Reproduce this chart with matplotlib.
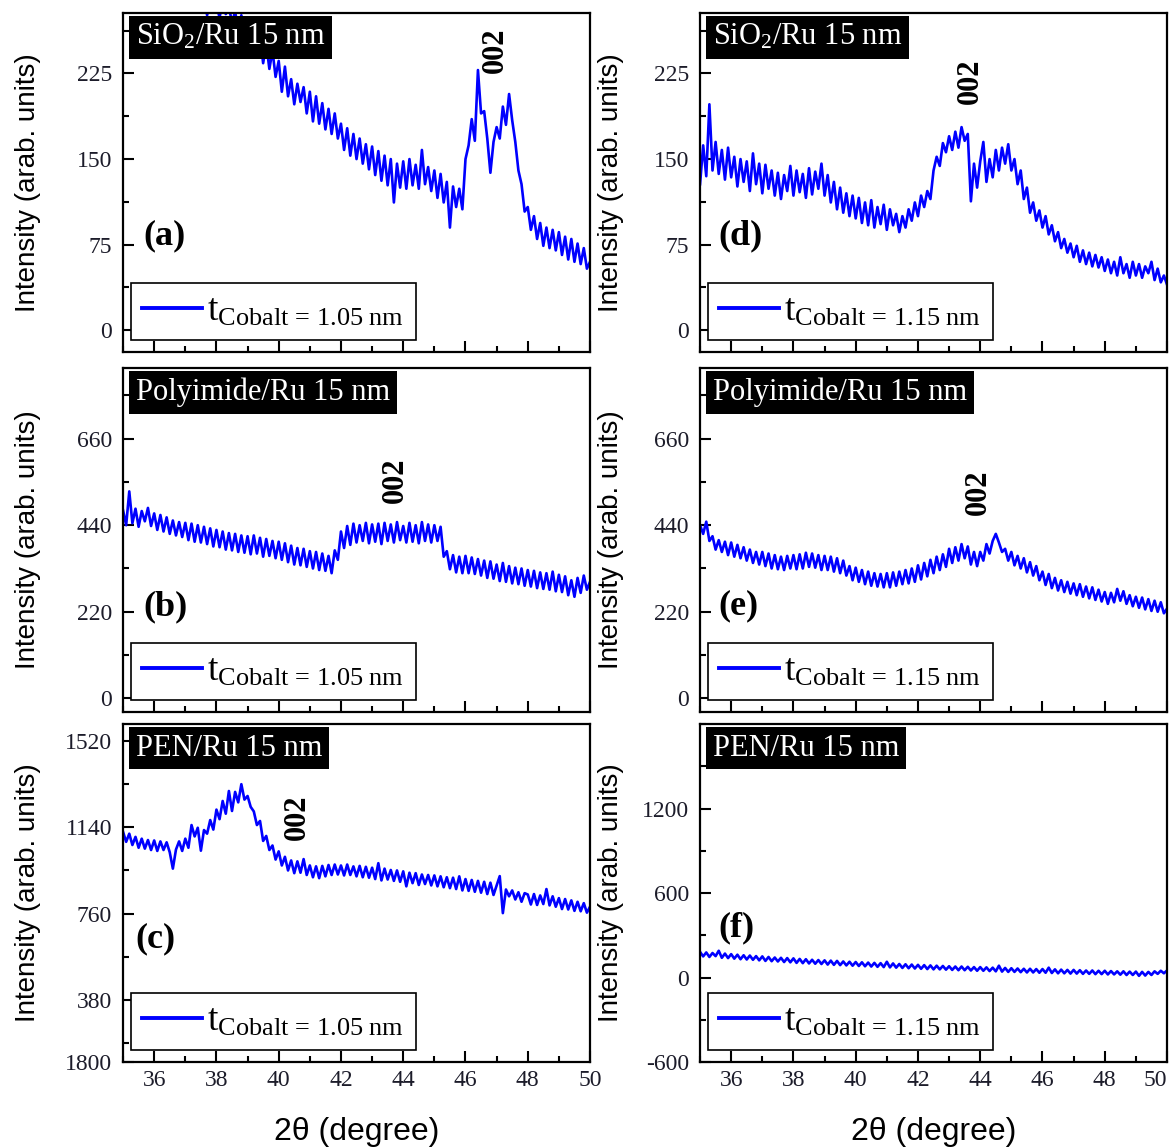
#!/usr/bin/env python3
# -*- coding: utf-8 -*-
"""
XRD 2θ 扫描: 不同衬底 (SiO2 / Polyimide / PEN) 上 Ru 15 nm / Co 薄膜
左列 t_Co = 1.05 nm, 右列 t_Co = 1.15 nm
"""

import numpy as np
import matplotlib
matplotlib.use('Agg')
import matplotlib.pyplot as plt
from matplotlib.ticker import MultipleLocator, FixedLocator, FixedFormatter

# 扫描范围 (度)
scan_start, scan_stop, scan_step = 35.0, 50.0, 0.1
two_theta = np.round(np.arange(scan_start, scan_stop + scan_step / 2, scan_step), 2)

# ---- 强度数据 (从原图读取, 每 0.1 度一个点) ----
# (a) SiO2/Ru, 1.05 nm
int_sio2_105 = [
    312, 291, 318, 288, 305, 284, 309, 295, 316, 290,
    298, 310, 292, 303, 286, 306, 294, 311, 289, 300,
    297, 284, 301, 288, 296, 279, 292, 276, 289, 281,
    285, 274, 288, 277, 283, 270, 279, 264, 276, 262,
    271, 250, 265, 246, 258, 234, 251, 229, 245, 222,
    236, 209, 231, 205, 220, 198, 216, 200, 213, 190,
    209, 183, 205, 181, 199, 176, 194, 172, 190, 168,
    181, 158, 177, 153, 172, 150, 168, 146, 163, 141,
    161, 136, 157, 131, 153, 127, 150, 112, 146, 125,
    148, 124, 150, 127, 145, 124, 158, 128, 143, 122,
    140, 116, 137, 112, 130, 90, 126, 108, 124, 106,
    150, 162, 185, 166, 228, 190, 192, 168, 138, 165,
    178, 168, 196, 180, 207, 184, 165, 140, 128, 104,
    108, 88, 100, 80, 94, 74, 90, 72, 88, 70,
    86, 66, 82, 62, 80, 60, 76, 58, 72, 54,
    60,
]
# (d) SiO2/Ru, 1.15 nm
int_sio2_115 = [
    128, 162, 135, 198, 140, 165, 137, 158, 132, 160,
    134, 152, 126, 150, 130, 148, 122, 155, 128, 146,
    120, 145, 124, 140, 118, 138, 115, 136, 122, 144,
    118, 140, 121, 137, 116, 142, 119, 139, 124, 146,
    118, 136, 112, 130, 106, 125, 103, 120, 100, 118,
    98, 116, 94, 112, 92, 114, 90, 108, 93, 110,
    88, 106, 92, 102, 86, 100, 90, 106, 96, 112,
    100, 118, 108, 122, 115, 140, 152, 144, 164, 156,
    170, 158, 174, 160, 178, 166, 172, 113, 146, 125,
    148, 165, 130, 150, 134, 158, 140, 160, 146, 163,
    140, 150, 128, 140, 115, 125, 103, 112, 96, 105,
    90, 100, 84, 92, 78, 86, 72, 80, 68, 76,
    64, 74, 60, 70, 58, 68, 56, 66, 55, 64,
    52, 62, 50, 60, 48, 64, 50, 58, 46, 60,
    48, 58, 46, 56, 50, 60, 44, 54, 42, 48,
    40,
]
# (b) Polyimide/Ru, 1.05 nm
int_pi_105 = [
    478, 440, 526, 445, 482, 436, 476, 450, 484, 438,
    470, 428, 466, 424, 460, 418, 452, 414, 448, 410,
    446, 402, 444, 398, 440, 396, 436, 392, 432, 386,
    428, 384, 424, 378, 420, 376, 418, 372, 414, 370,
    412, 366, 414, 368, 408, 360, 405, 362, 400, 356,
    398, 352, 394, 346, 388, 340, 382, 338, 380, 334,
    374, 330, 372, 326, 368, 324, 362, 318, 376, 352,
    424, 382, 438, 390, 444, 396, 440, 400, 446, 394,
    442, 398, 444, 392, 446, 400, 442, 396, 448, 402,
    438, 396, 446, 398, 440, 394, 448, 400, 442, 396,
    440, 400, 436, 360, 374, 328, 364, 320, 360, 318,
    362, 318, 358, 316, 354, 312, 350, 306, 348, 304,
    340, 298, 344, 296, 336, 292, 332, 290, 330, 286,
    326, 284, 324, 280, 320, 278, 318, 276, 322, 272,
    314, 270, 310, 262, 300, 258, 306, 268, 312, 276,
    296,
]
# (e) Polyimide/Ru, 1.15 nm
int_pi_115 = [
    440, 418, 449, 400, 412, 378, 402, 372, 398, 364,
    396, 360, 390, 356, 384, 350, 378, 344, 372, 340,
    372, 336, 368, 330, 364, 328, 360, 326, 362, 330,
    364, 328, 366, 330, 370, 334, 368, 332, 364, 326,
    362, 326, 360, 322, 356, 318, 350, 312, 336, 300,
    332, 296, 326, 290, 322, 286, 318, 284, 316, 282,
    318, 282, 320, 286, 322, 290, 326, 292, 330, 296,
    338, 302, 344, 310, 352, 318, 360, 326, 366, 334,
    380, 344, 384, 350, 392, 356, 386, 340, 372, 336,
    372, 350, 392, 368, 400, 418, 396, 372, 380, 350,
    372, 338, 362, 330, 356, 320, 346, 312, 336, 300,
    322, 288, 316, 280, 306, 274, 300, 270, 296, 266,
    292, 262, 290, 258, 284, 254, 282, 250, 276, 246,
    270, 240, 268, 244, 278, 248, 272, 240, 262, 234,
    258, 230, 256, 226, 252, 222, 248, 220, 244, 216,
    228,
]
# (c) PEN/Ru, 1.05 nm
int_pen_105 = [
    1120, 1076, 1112, 1062, 1098, 1050, 1090, 1046, 1084, 1040,
    1082, 1036, 1078, 1040, 1074, 1030, 958, 1042, 1078, 1036,
    1090, 1050, 1150, 1100, 1138, 1037, 1128, 1112, 1172, 1130,
    1218, 1176, 1256, 1200, 1300, 1212, 1296, 1250, 1330, 1262,
    1278, 1230, 1210, 1150, 1168, 1080, 1102, 1040, 1060, 998,
    1034, 972, 1010, 950, 994, 938, 990, 940, 1000, 930,
    972, 920, 968, 916, 970, 924, 974, 930, 976, 932,
    972, 928, 976, 930, 968, 924, 970, 920, 966, 918,
    962, 912, 982, 906, 958, 910, 952, 904, 950, 900,
    946, 880, 940, 894, 938, 886, 932, 890, 930, 884,
    928, 880, 924, 876, 920, 872, 918, 868, 924, 862,
    912, 860, 908, 856, 904, 852, 900, 846, 896, 842,
    884, 925, 762, 866, 836, 862, 822, 854, 812, 850,
    844, 800, 846, 798, 840, 802, 868, 796, 836, 790,
    828, 780, 824, 778, 818, 772, 812, 770, 806, 764,
    790,
]
# (f) PEN/Ru, 1.15 nm
int_pen_115 = [
    182, 150, 178, 146, 174, 152, 190, 140, 170, 138,
    166, 134, 162, 130, 158, 128, 156, 126, 152, 122,
    150, 118, 146, 116, 142, 114, 140, 110, 138, 108,
    136, 104, 132, 102, 130, 100, 126, 98, 124, 96,
    122, 92, 120, 90, 118, 88, 114, 86, 112, 84,
    110, 82, 108, 80, 106, 78, 104, 76, 102, 74,
    112, 72, 100, 70, 96, 68, 94, 66, 92, 64,
    90, 62, 88, 60, 86, 58, 84, 58, 82, 56,
    80, 54, 78, 52, 78, 52, 76, 50, 74, 48,
    74, 48, 72, 46, 70, 44, 84, 42, 68, 40,
    66, 40, 64, 38, 62, 36, 62, 36, 60, 34,
    60, 34, 70, 32, 58, 30, 56, 30, 54, 28,
    54, 28, 52, 26, 50, 26, 50, 24, 48, 24,
    48, 22, 46, 22, 44, 20, 44, 18, 42, 18,
    42, 12, 40, 14, 40, 18, 44, 26, 48, 30,
    50,
]

# 文字
substrate_labels = [r'SiO$_2$/Ru 15 nm', 'Polyimide/Ru 15 nm', 'PEN/Ru 15 nm']
thickness_labels = ['1.05', '1.15']
panel_tags = [['(a)', '(d)'], ['(b)', '(e)'], ['(c)', '(f)']]

# 每个子图的数据
series = [[int_sio2_105, int_sio2_115],
          [int_pi_105, int_pi_115],
          [int_pen_105, int_pen_115]]

# 纵轴刻度
ylims = [[(-19, 278), (-19, 278)],
         [(-35, 840), (-35, 840)],
         [(106, 1595), (-600, 1800)]]
yticks = [[[0, 75, 150, 225], [0, 75, 150, 225]],
          [[0, 220, 440, 660], [0, 220, 440, 660]],
          [[106, 380, 760, 1140, 1520], [-600, 0, 600, 1200]]]
yticklabels = [[['0', '75', '150', '225'], ['0', '75', '150', '225']],
               [['0', '220', '440', '660'], ['0', '220', '440', '660']],
               [['1800', '380', '760', '1140', '1520'], ['-600', '0', '600', '1200']]]
yminor = [[37.5, 37.5], [110, 110], [190, 300]]

# 002 峰标注位置 (2θ, 强度); None 表示无
peak_marks = [[(46.95, 245), (43.67, 218)],
              [(43.74, 553), (43.93, 524)],
              [(40.59, 1184), None]]

# 面板标签位置 (轴坐标)
tag_pos = [[(0.043, 0.342), (0.039, 0.342)],
           [(0.043, 0.305), (0.039, 0.308)],
           [(0.026, 0.364), (0.039, 0.396)]]

LINE_BLUE = '#0000ff'
TICK_COLOR = '#1c1c2a'

plt.rcParams['font.family'] = ['Liberation Serif', 'DejaVu Serif']
plt.rcParams['mathtext.fontset'] = 'custom'
plt.rcParams['mathtext.rm'] = 'Liberation Serif'
plt.rcParams['mathtext.it'] = 'Liberation Serif:italic'
plt.rcParams['mathtext.bf'] = 'Liberation Serif:bold'


def style_axes(ax, row, col):
    """刻度与边框"""
    ax.set_xlim(scan_start, scan_stop)
    ax.set_ylim(*ylims[row][col])
    ax.xaxis.set_major_locator(MultipleLocator(2))
    ax.xaxis.set_minor_locator(MultipleLocator(1))
    ax.yaxis.set_major_locator(FixedLocator(yticks[row][col]))
    ax.yaxis.set_major_formatter(FixedFormatter(yticklabels[row][col]))
    ax.yaxis.set_minor_locator(MultipleLocator(yminor[row][col]))
    ax.tick_params(which='both', direction='in', top=False, right=False,
                   width=1.5, colors='black', labelcolor=TICK_COLOR,
                   labelsize=17)
    ax.tick_params(which='major', length=8)
    ax.tick_params(which='minor', length=4.5)
    ax.tick_params(axis='y', pad=8)
    ax.tick_params(axis='x', pad=6)
    if row < 2:
        ax.tick_params(axis='x', labelbottom=False)
    for sp in ax.spines.values():
        sp.set_linewidth(1.6)


fig = plt.figure(figsize=(11.73, 11.48), dpi=100)

col_left = [0.1049, 0.5968]
col_width = 0.3981
row_box = [(0.6934, 0.2953), (0.3798, 0.2997), (0.0749, 0.2944)]

for row in range(3):
    for col in range(2):
        bottom, height = row_box[row]
        ax = fig.add_axes([col_left[col], bottom, col_width, height])
        style_axes(ax, row, col)

        label = r'$\mathregular{t_{Cobalt\,=\,%s\ nm}}$' % thickness_labels[col]
        ax.plot(two_theta, series[row][col], color=LINE_BLUE, lw=1.9,
                label=label, zorder=2)

        # 衬底标题 (黑底白字)
        ax.text(0.028, 0.972, substrate_labels[row], transform=ax.transAxes,
                ha='left', va='top', color='white', fontsize=22, zorder=6,
                bbox=dict(boxstyle='square,pad=0.22', fc='black', ec='none'))

        # 面板标签
        tx, ty = tag_pos[row][col]
        ax.text(tx, ty, panel_tags[row][col], transform=ax.transAxes,
                ha='left', va='center', fontsize=26, fontweight='bold')

        # 002 峰
        if peak_marks[row][col] is not None:
            px, py = peak_marks[row][col]
            ax.text(px, py, '002', rotation=90, ha='center', va='center',
                    fontsize=22, fontweight='bold')

        leg = ax.legend(loc='lower left', bbox_to_anchor=(0.016, 0.035),
                        borderaxespad=0, fancybox=False, framealpha=1,
                        edgecolor='black', prop={'size': 27},
                        handlelength=1.6, handletextpad=0.15,
                        borderpad=0.3)
        leg.get_frame().set_linewidth(1.2)
        leg.legend_handles[0].set_linewidth(2.8)

        ax.set_ylabel('Intensity (arab. units)', family='Liberation Sans',
                      fontsize=20)
        ax.yaxis.set_label_coords(-0.175 if col == 0 else -0.162, 0.5)
        if row == 2:
            ax.set_xlabel('2θ (degree)', family='Liberation Sans', fontsize=23)
            ax.xaxis.set_label_coords(0.5, -0.162)
            if col == 1:
                # 最右的 "50" 贴着图边, 向左对齐
                fig.canvas.draw()
                for lab in ax.get_xticklabels():
                    if lab.get_text() == '50':
                        lab.set_horizontalalignment('right')

fig.savefig('out.png', dpi=100)
